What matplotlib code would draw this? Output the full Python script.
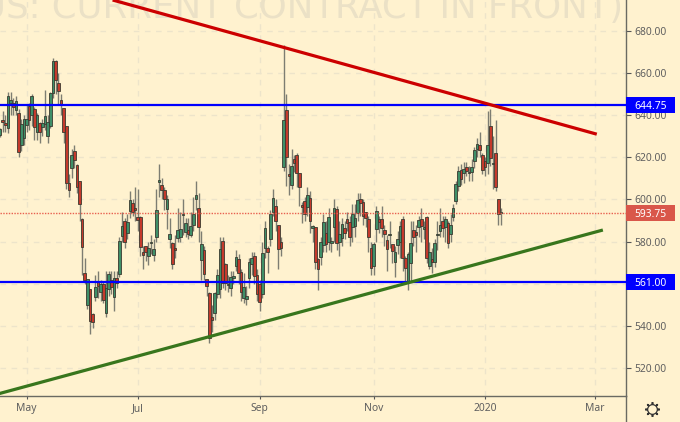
import matplotlib
matplotlib.use("Agg")
import matplotlib.pyplot as plt
from matplotlib.lines import Line2D
from matplotlib.patches import Rectangle
from matplotlib.transforms import blended_transform_factory

# prices, one entry per trading day
opens = [
    630.6, 637.6, 636, 633.8, 646, 645.6, 642.5, 640.9, 625.8, 629,
    635.3, 644, 640, 642.8, 632, 635.8, 634.5, 636, 630, 634.9,
    650.4, 665.4, 654.8, 646.7, 643, 634.5, 607.6, 614.8, 622.7, 616.3,
    608.4, 590.6, 565, 549.9, 557, 545.4, 553.5, 560.6, 556.2, 559.7,
    545.9, 557.3, 561.4, 553.5, 562.5, 564.4, 582.8, 589.5, 584.2, 594.7,
    598.2, 595.5, 591.4, 591.4, 574.9, 577.6, 573.2, 579.5, 573.6, 582.3,
    608.4, 606.8, 604, 595.3, 581.2, 579.2, 576.8, 581.9, 582.3, 592.6,
    584.7, 585.2, 583.1, 587.9, 600, 595.8, 571.3, 575.7, 562, 555.1,
    543.9, 546, 555.1, 557.3, 580, 568.9, 559.5, 557.8, 562.9, 568.4,
    571.6, 565.2, 553, 552.7, 562.5, 569.4, 572.8, 564, 559.4, 555.1,
    576.8, 576.5, 581.2, 594.2, 596.6, 587.4, 579.6,
    615.2, 642, 611.6, 606.8, 619, 620.9, 612.4, 597, 599, 596.6,
    600.5, 586.4, 586.8, 571.6, 572.8, 578.4, 583.9, 579.6, 579.3, 587,
    595, 580, 581.5, 586, 590.6, 589, 587, 587.6, 593.4, 600,
    598.6, 593.7, 590.6, 576.5, 568.4, 586, 590.3, 590.3, 585, 580.3,
    582.9, 578.4, 570.5, 578.4, 580, 590.3, 572, 561, 569.7, 585.2,
    584.4, 586.8, 590.6, 586, 591.4, 568.6, 571.3, 570.5, 583, 585.2,
    589.5, 587, 588.7, 583.5, 591.8, 599.3, 606.6, 613.5, 612.4, 615.1,
    612.4, 613.2, 618.3, 623.8, 625.4, 620.7, 618, 617.5, 634.6, 617,
    621.9, 599.8, 593.5,
]
highs = [
    633.7, 642, 640, 651, 651, 648, 649, 643, 638, 640,
    645, 646, 650, 644, 641, 637, 638, 652, 640, 651,
    667, 666, 660, 650, 643.5, 635, 612, 624, 626, 617,
    609, 591, 572, 562, 557.5, 546, 564, 566, 562, 561,
    566, 566, 566, 566, 566, 582, 594, 591, 593, 604,
    600, 606, 605, 592, 578, 578, 580, 583, 581, 605,
    616.7, 610, 606, 602, 591, 580, 583, 596, 594, 600,
    591, 591, 594, 601, 609, 603, 585, 578, 562, 556,
    550, 556, 567, 582, 582, 570, 564, 566, 566, 576,
    574, 567, 565, 559, 572, 575, 575, 567, 562, 580,
    590, 578, 595, 605, 600, 588, 582,
    673.5, 650, 617, 624, 621, 622, 612.5, 599, 601, 606,
    604, 588, 587, 572, 582, 593, 590, 596, 582, 600,
    597, 590, 591, 590, 594, 592, 598, 598, 603, 603,
    600, 594, 592, 580, 580, 597, 592, 597, 588, 583,
    590, 578.5, 578, 585, 590, 592, 573, 575, 590, 590,
    588, 592, 596, 590, 592, 580, 577, 581, 590, 596,
    592, 592, 590, 593, 598, 609, 616, 617, 618, 618,
    616, 619, 625, 629, 632, 622, 620, 642, 643, 630,
    637.5, 600, 596,
]
lows = [
    629.8, 632, 632, 631.5, 640, 640, 640, 620, 623, 626,
    632, 633, 635, 628, 628, 627, 630, 633, 627, 634,
    648, 650, 645, 640, 627, 605, 601, 610, 615, 603,
    590, 564, 560, 548, 536, 539, 552, 553, 552, 551,
    544, 554, 555, 547, 558, 563, 580, 577, 581, 591,
    592, 590, 585, 573, 567, 571, 569, 574, 571, 580,
    601, 600, 595, 586, 577, 567, 572, 580, 580, 583,
    582, 581, 582, 585, 595, 580, 562, 562, 554, 532,
    537, 543, 553, 553, 558, 557, 556, 554, 560, 566,
    560, 552, 551, 550, 558, 564, 560, 552, 547, 553,
    572, 565, 578, 592, 585, 567, 573,
    613.5, 606.5, 602, 605, 613, 606, 597, 589, 590, 592,
    584, 580, 567, 557, 569, 575, 575, 576, 575, 580,
    576, 573, 578, 581, 585, 578, 580, 582, 590, 592,
    588, 587, 575, 564, 564, 580, 584, 582, 578, 566,
    577, 570, 563, 574, 572, 566, 560, 557, 561, 578,
    575, 582, 580, 581, 570, 567, 565, 568, 576, 582,
    582, 580, 577, 580, 590, 598, 604, 607, 608, 611,
    609, 609, 615, 620, 620, 612, 611, 612, 616, 605,
    604, 588, 588,
]
closes = [
    633, 637, 635.5, 648.8, 647, 644, 646.5, 622.7, 635.3, 637.7,
    637.7, 637.7, 649, 634.5, 639.6, 632, 635.8, 639.3, 636.4, 650.4,
    665.4, 656.7, 651.6, 644.8, 632.2, 607.6, 604.5, 621, 618.7, 605.7,
    597.8, 577.3, 561.8, 561.8, 542.4, 542, 558.3, 559, 559.4, 552.3,
    557.8, 564.4, 558.3, 562.5, 560.2, 580, 587, 580, 589, 599.3,
    594.2, 595, 590.3, 577.6, 573.6, 574.9, 576.8, 579.6, 576, 594.7,
    609, 604.5, 600, 600, 583.4, 569.4, 576, 585, 585.5, 592.8,
    588.7, 583.6, 587, 593, 602, 586.8, 578.4, 564.6, 559, 534,
    542.8, 555.4, 564, 576, 560.2, 560.2, 559.8, 563, 563.4, 572.4,
    565.2, 556.2, 558.3, 553.8, 570, 572, 563.7, 555, 551.5, 574.4,
    586.3, 575.2, 593, 600.5, 590, 576.5, 577,
    637.4, 620, 611.2, 615.6, 617.1, 612.4, 606, 596.6, 593, 602,
    590, 587, 570.5, 566.8, 579.5, 589.1, 578.9, 591.4, 580, 595.5,
    579.2, 583.4, 587.9, 584.2, 589, 582.3, 592.6, 591, 599.3, 598.2,
    592.3, 591.4, 582, 567.3, 578.4, 594.2, 589.5, 586.6, 583.4, 576.3,
    583.2, 575.5, 574.9, 581, 587, 572, 567.6, 573.6, 578.9, 582,
    583.1, 590, 587.4, 586.5, 572.4, 574.9, 570.5, 579.2, 583.5, 587.6,
    586.6, 590.6, 579.2, 587.4, 595.5, 607.2, 613.2, 609.6, 614.3, 613.5,
    612.8, 615.1, 623, 626.2, 623.3, 614, 615.3, 625.4, 619.5, 617,
    606.1, 593.1, 593.75,
]

month_pos = [10, 52, 98, 141, 183, 224.5]
month_labels = ["May", "Jul", "Sep", "Nov", "2020", "Mar"]
price_ticks = [520, 540, 560, 580, 600, 620, 640, 660, 680]

resistance = 644.75
support = 561.00
last_price = 593.75

red_x = [42.5, 225.2]
red_y = [694.7, 631.0]
green_x = [-1, 227.5]
green_y = [507.6, 585.5]

BG = "#fff2cf"
GRID = "#ede4ca"
BLUE = "#0000ff"
TEXT = "#5f5f5f"

plt.rcParams["font.family"] = ["Noto Sans", "DejaVu Sans"]

fig = plt.figure(figsize=(6.8, 4.22), dpi=100, facecolor=BG)
ax = fig.add_axes([0, 26 / 422, 626 / 680, 396 / 422], facecolor=BG)
ax.set_xlim(0, 626 / 2.65)
ax.set_ylim(506.7, 694.7)

# watermark, cut by the top edge
ax.text(0.4825, 0.955, "US: CURRENT CONTRACT IN FRONT)", transform=ax.transAxes,
        ha="center", va="baseline", fontsize=25.6, color="#ebe1c6", zorder=0,
        family="DejaVu Sans")

ax.set_axisbelow(True)
ax.grid(True, color=GRID, lw=1, linestyle=(0, (4, 4)))

for i in range(len(opens)):
    up = closes[i] >= opens[i]
    ax.vlines(i, lows[i], highs[i], color="#7d7d72", lw=1.0, zorder=2)
    ax.bar(i, abs(closes[i] - opens[i]) + 0.3, bottom=min(opens[i], closes[i]), width=1.0,
           color="#3f8f68" if up else "#c43a2c", edgecolor="#3a3a30", lw=0.6, zorder=3)

ax.axhline(last_price, color="#e8604f", lw=1.0, linestyle=(0, (1, 1)), zorder=4)
ax.axhline(resistance, color=BLUE, lw=1.6, zorder=5)
ax.axhline(support, color=BLUE, lw=1.6, zorder=5)
ax.plot(red_x, red_y, color="#cc0000", lw=2.3, zorder=6, solid_capstyle="butt")
ax.plot(green_x, green_y, color="#38761d", lw=2.3, zorder=6, solid_capstyle="butt")

ax.yaxis.tick_right()
ax.set_yticks(price_ticks)
ax.set_yticklabels(["%.2f" % p for p in price_ticks])
ax.set_xticks(month_pos)
ax.set_xticklabels(month_labels)
ax.tick_params(axis="y", length=3.6, width=0.8, color="#555555", labelcolor=TEXT,
               labelsize=7.4, pad=2.2)
ax.tick_params(axis="x", length=1.8, width=0.8, color="#555555", labelcolor=TEXT,
               labelsize=7.4, pad=3.5)
ax.get_xticklabels()[4].set_fontweight("bold")
for side in ["top", "left"]:
    ax.spines[side].set_visible(False)
for side in ["bottom", "right"]:
    ax.spines[side].set_color("#6a6a62")
    ax.spines[side].set_linewidth(1.0)

# the axis line carries on to the bottom edge of the image
fig.add_artist(Line2D([626 / 680, 626 / 680], [0, 26 / 422], color="#6a6a62", lw=1.0))

# price tags over the axis labels
trans = blended_transform_factory(ax.transAxes, ax.transData)
tag_w = 49 / 626
tag_h = 16 / 2.106
for value, colour in [(resistance, BLUE), (support, BLUE), (last_price, "#d9574a")]:
    ax.add_patch(Rectangle((1.0, value - tag_h / 2), tag_w, tag_h, transform=trans,
                           facecolor=colour, edgecolor="none", clip_on=False, zorder=8))
    ax.text(1.0 + tag_w / 2, value, "%.2f" % value, transform=trans, color="white",
            fontsize=7.4, fontweight="bold", ha="center", va="center_baseline",
            clip_on=False, zorder=9)

# settings gear
gx, gy = 652 / 680, 1 - 409 / 422
fig.add_artist(Line2D([gx], [gy], marker=(8, 2, 0), ms=10.5, mew=1.2, color="#333333"))
fig.add_artist(Line2D([gx], [gy], marker="o", ms=7, mew=0.9, mfc=BG, mec="#333333"))

fig.savefig("out.png", dpi=100, facecolor=BG)
